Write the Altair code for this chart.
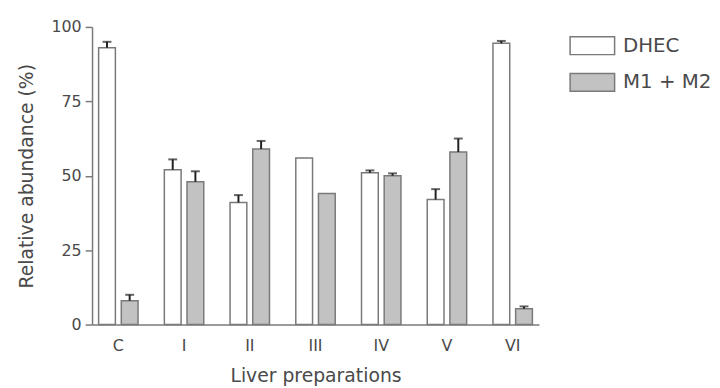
import altair as alt
import pandas as pd

categories = ["C", "I", "II", "III", "IV", "V", "VI"]
series = ["DHEC", "M1 + M2"]
dhec = [93, 52, 41, 56, 51, 42, 94.5]
dhec_err = [2, 3.5, 2.5, 0, 0.8, 3.5, 0.8]
m12 = [8, 48, 59, 44, 50, 58, 5.3]
m12_err = [2, 3.5, 2.7, 0, 0.8, 4.5, 0.8]

rows = []
for i, c in enumerate(categories):
    rows.append({"prep": c, "series": series[0], "value": dhec[i], "top": dhec[i] + dhec_err[i], "err": dhec_err[i]})
    rows.append({"prep": c, "series": series[1], "value": m12[i], "top": m12[i] + m12_err[i], "err": m12_err[i]})
df = pd.DataFrame(rows)

FONT = "DejaVu Sans"
TXT = "#4a4a4a"
LINE = "#7a7a7a"

x = alt.X("prep:N", sort=categories,
          scale=alt.Scale(paddingInner=0.4, paddingOuter=0.1),
          axis=alt.Axis(title="Liver preparations", labelAngle=0, ticks=False, tickSize=0,
                        labelPadding=13, titlePadding=14, domainColor=LINE, domainWidth=1.5,
                        labelFontSize=16, titleFontSize=19, labelColor=TXT, titleColor=TXT,
                        labelFont=FONT, titleFont=FONT, titleFontWeight="normal"))
xo = alt.XOffset("series:N", sort=series, scale=alt.Scale(paddingInner=0.26, paddingOuter=0))
y = alt.Y("value:Q", scale=alt.Scale(domain=[0, 100], nice=False),
          axis=alt.Axis(title="Relative abundance (%)", values=[0, 25, 50, 75, 100], grid=False,
                        tickSize=7, tickColor=LINE, tickWidth=1.5, domainColor=LINE, domainWidth=1.5,
                        labelPadding=4, titlePadding=15, labelFontSize=16, titleFontSize=19,
                        labelColor=TXT, titleColor=TXT, labelFont=FONT, titleFont=FONT,
                        titleFontWeight="normal"))

bars = alt.Chart(df).mark_bar(stroke=LINE, strokeWidth=1.5).encode(
    x=x, xOffset=xo, y=y,
    fill=alt.Fill("series:N", sort=series,
                  scale=alt.Scale(domain=series, range=["#ffffff", "#c2c2c2"]),
                  legend=alt.Legend(title=None, orient="none", legendX=496, legendY=9,
                                    symbolType="M-2.5,-1L2.5,-1L2.5,1L-2.5,1Z", symbolSize=324,
                                    symbolStrokeColor=LINE, symbolStrokeWidth=1.5, symbolOpacity=1,
                                    labelFontSize=20, labelFont=FONT, labelColor=TXT,
                                    labelOffset=21, rowPadding=13, padding=0)),
)

errdf = df[df["err"] > 0]
stems = alt.Chart(errdf).mark_rule(color="#222222", strokeWidth=2).encode(
    x=alt.X("prep:N", sort=categories), xOffset=alt.XOffset("series:N", sort=series),
    y="value:Q", y2="top:Q")
caps = alt.Chart(errdf).mark_tick(color="#222222", thickness=2, size=9, orient="horizontal").encode(
    x=alt.X("prep:N", sort=categories), xOffset=alt.XOffset("series:N", sort=series),
    y="top:Q")

chart = alt.layer(bars, stems, caps).properties(
    width=452, height=301,
    padding={"left": 9, "top": 9, "right": 0, "bottom": 0},
    background="#ffffff",
).configure_view(stroke=None)

chart.save("out.html", embed_options={"renderer": "svg", "actions": False})
